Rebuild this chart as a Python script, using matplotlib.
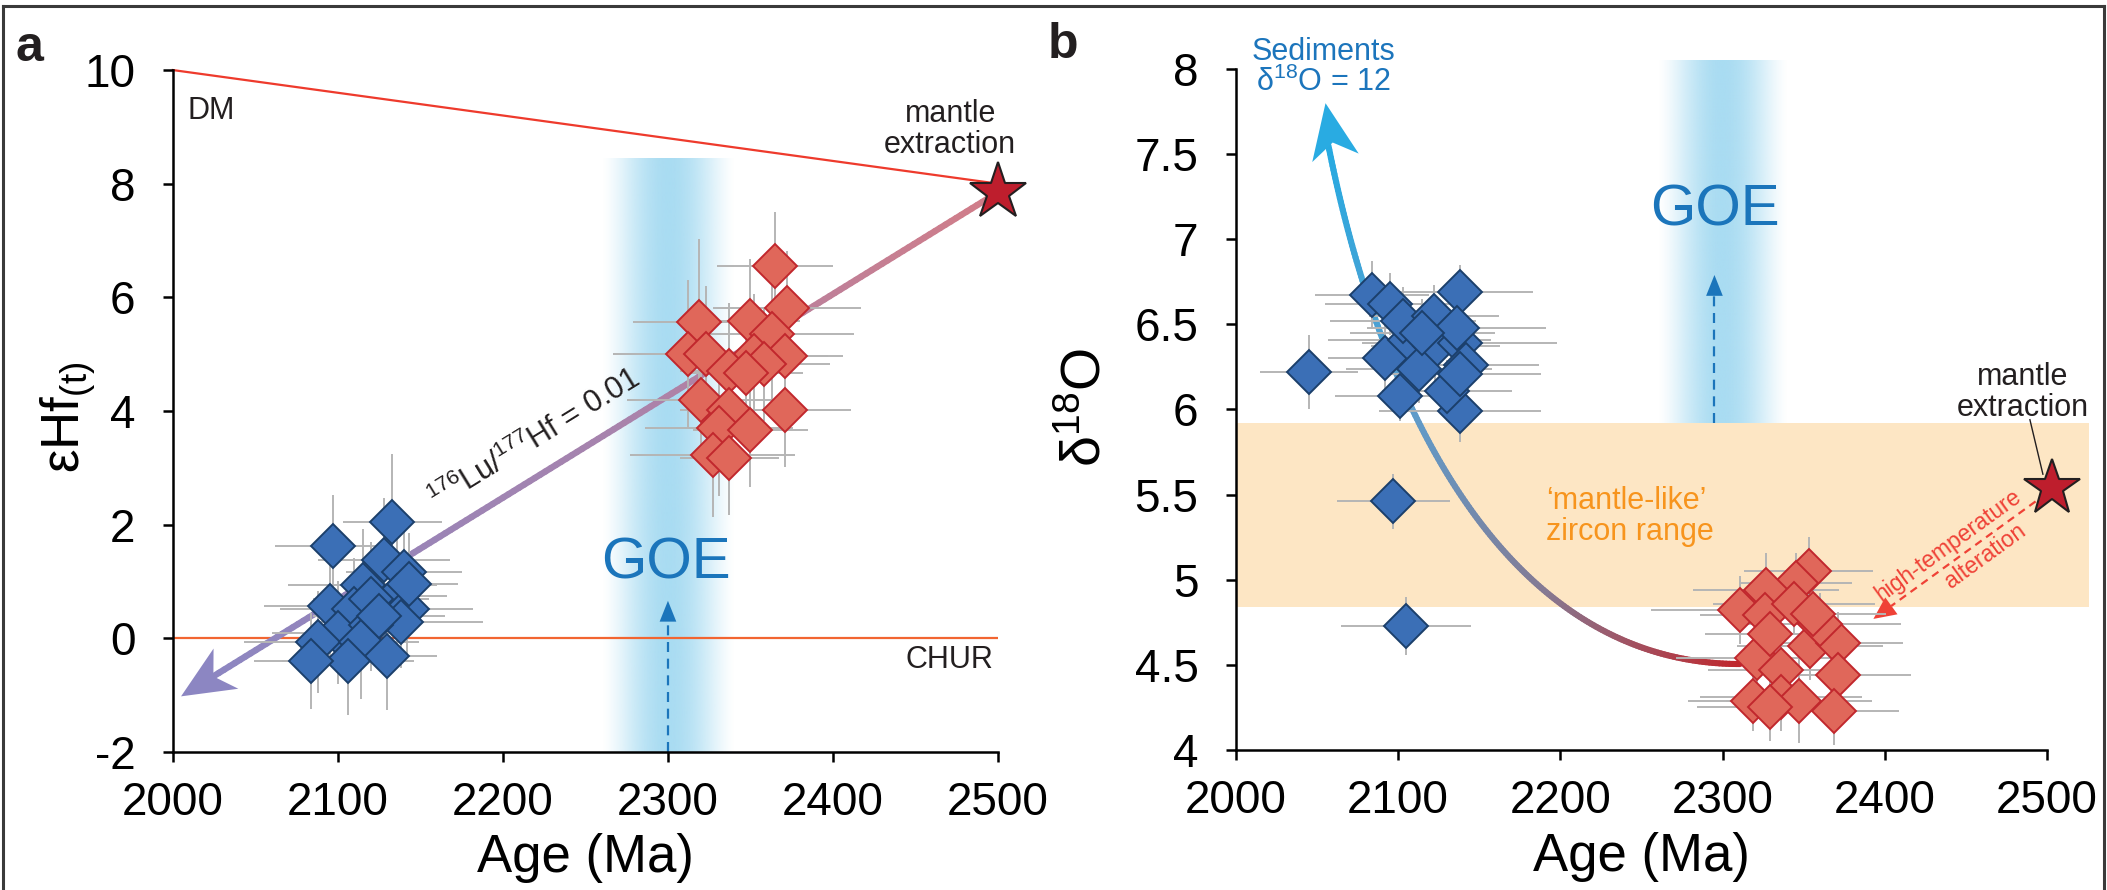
import numpy as np
import matplotlib
matplotlib.use("Agg")
import matplotlib.pyplot as plt
from matplotlib.collections import LineCollection
from matplotlib.colors import LinearSegmentedColormap, to_rgb
from matplotlib.bezier import BezierSegment
from matplotlib.patches import Rectangle
from matplotlib.lines import Line2D
from matplotlib.markers import MarkerStyle
from matplotlib.path import Path
from matplotlib.transforms import Affine2D
from matplotlib.ticker import FormatStrFormatter

# ---------------- data ----------------
# panel a : eHf(t) vs age
hf_blue_age = [2133, 2097, 2128, 2140, 2115, 2095, 2136, 2142, 2110, 2120,
               2138, 2100, 2120, 2088, 2114, 2130, 2106, 2084, 2143, 2125]
hf_blue_ehf = [2.05, 1.62, 1.37, 1.16, 0.93, 0.57, 0.75, 0.52, 0.52, 0.69,
               0.28, 0.10, 0.23, -0.07, -0.07, -0.31, -0.40, -0.40, 0.95, 0.40]
hf_blue_age_err = [30, 35, 40, 35, 45, 40, 30, 40, 45, 35,
                   50, 40, 30, 45, 35, 30, 40, 35, 30, 40]
hf_blue_ehf_err = [1.2, 0.9, 1.1, 0.9, 1.0, 0.9, 1.0, 0.8, 0.9, 1.0,
                   0.8, 0.9, 0.8, 0.9, 1.0, 0.95, 0.95, 0.85, 0.9, 0.8]

hf_red_age = [2365, 2372, 2319, 2350, 2363, 2312, 2323, 2371, 2352, 2358,
              2337, 2347, 2320, 2337, 2371, 2331, 2350, 2327, 2337]
hf_red_ehf = [6.55, 5.82, 5.57, 5.58, 5.35, 5.00, 5.00, 4.96, 4.96, 4.82,
              4.70, 4.67, 4.20, 4.02, 4.02, 3.70, 3.67, 3.23, 3.17]
hf_red_age_err = [35, 45, 40, 30, 50, 45, 40, 35, 45, 40,
                  30, 35, 45, 30, 40, 45, 35, 50, 30]
hf_red_ehf_err = [0.95, 1.0, 1.45, 1.1, 1.2, 1.3, 1.2, 1.0, 1.1, 1.0,
                  1.2, 1.1, 1.0, 1.1, 1.0, 1.2, 1.0, 1.1, 1.0]

dm_age = [2000, 2500]
dm_ehf = [10, 8]
chur_age = [2000, 2500]
chur_ehf = [0, 0]
hf_source = (2500, 7.85)           # mantle extraction star
hf_evol_tip = (2005, -1.02)        # 176Lu/177Hf = 0.01 evolution arrow

# panel b : d18O vs age
o_blue_age = [2084, 2095, 2138, 2045, 2092, 2107, 2123, 2138, 2113, 2101,
              2138, 2103, 2122, 2136, 2142, 2130, 2138, 2097, 2105, 2115]
o_blue_d18o = [6.67, 6.62, 6.69, 6.22, 6.30, 6.41, 6.37, 6.39, 6.24, 6.08,
               5.99, 6.52, 6.55, 6.48, 6.26, 6.11, 6.21, 5.46, 4.73, 6.45]
o_blue_age_err = [35, 40, 45, 30, 35, 50, 40, 60, 45, 40,
                  50, 45, 40, 55, 45, 40, 50, 35, 40, 45]
o_blue_d18o_err = [0.2, 0.18, 0.16, 0.22, 0.2, 0.18, 0.2, 0.18, 0.2, 0.15,
                   0.18, 0.2, 0.18, 0.2, 0.15, 0.18, 0.2, 0.16, 0.17, 0.2]

o_red_age = [2353, 2345, 2311, 2327, 2326, 2344, 2354, 2371, 2321, 2336,
             2371, 2319, 2336, 2347, 2369, 2360, 2329, 2356, 2329]
o_red_d18o = [5.05, 4.98, 4.82, 4.94, 4.79, 4.86, 4.61, 4.63, 4.54, 4.47,
              4.44, 4.29, 4.31, 4.29, 4.23, 4.74, 4.68, 4.80, 4.25]
o_red_age_err = [40, 35, 55, 45, 40, 50, 45, 40, 50, 45,
                 45, 40, 50, 45, 40, 50, 40, 45, 45]
o_red_d18o_err = [0.2, 0.18, 0.2, 0.22, 0.2, 0.18, 0.2, 0.18, 0.22, 0.2,
                  0.2, 0.18, 0.2, 0.25, 0.2, 0.18, 0.2, 0.2, 0.2]

mantle_zircon = (4.84, 5.92)       # 'mantle-like' zircon range
o_source = (2503, 5.54)
sediment_curve = [(2310.7, 4.505), (2168.9, 4.505), (2090.0, 5.97), (2057.0, 7.55)]
sediment_tip = (2055, 7.80)
alteration_from = (2493, 5.46)
alteration_to = (2393, 4.77)
goe_age = (2260, 2340)

BLUE_FC, BLUE_EC = '#3b6fb6', '#1b3f6b'
RED_FC, RED_EC = '#e0675a', '#c1272d'
ERR_C = '#b5b5b5'
GOE_C = '#1b75bb'
ALT_C = '#ef4136'

plt.rcParams['font.family'] = ['Liberation Sans', 'DejaVu Sans']
plt.rcParams['mathtext.fontset'] = 'custom'
plt.rcParams['mathtext.rm'] = 'Liberation Sans'
plt.rcParams['mathtext.it'] = 'Liberation Sans:italic'
plt.rcParams['mathtext.bf'] = 'Liberation Sans:bold'
plt.rcParams['mathtext.default'] = 'regular'
plt.rcParams['axes.unicode_minus'] = False

fig = plt.figure(figsize=(21.07, 8.90), dpi=100)
axA = fig.add_axes([0.0820, 0.1551, 0.3917, 0.7662])
axB = fig.add_axes([0.5866, 0.1573, 0.3849, 0.7652])


def style_axes(ax):
    for s in ['top', 'right']:
        ax.spines[s].set_visible(False)
    for s in ['left', 'bottom']:
        ax.spines[s].set_linewidth(1.8)
    ax.tick_params(direction='out', length=7, width=1.8, labelsize=33)
    ax.tick_params(axis='x', pad=14)
    ax.tick_params(axis='y', pad=20)
    ax.set_xticks(range(2000, 2501, 100))
    ax.set_xlabel('Age (Ma)', fontsize=38, labelpad=6)


def goe_band(ax, y0, y1):
    s = np.linspace(-1, 1, 256)
    img = np.zeros((1, 256, 4))
    img[..., :3] = to_rgb('#a9dcf2')
    img[..., 3] = (0.5 * (1 + np.cos(np.pi * s))) ** 0.7
    im = ax.imshow(img, extent=[goe_age[0], goe_age[1], y0, y1], aspect='auto',
                   interpolation='bilinear', zorder=0.4)
    im.set_clip_on(False)


def gradient_line(ax, pts, colors, lw):
    segs = np.stack([pts[:-1], pts[1:]], axis=1)
    cmap = LinearSegmentedColormap.from_list('g', colors)
    lc = LineCollection(segs, colors=cmap(np.linspace(0, 1, len(segs))),
                        linewidth=lw, capstyle='round', zorder=2)
    ax.add_collection(lc)


def head(ax, tip, back, color, scale, hl, hw, z=2.5):
    ax.annotate('', xy=tip, xytext=back, zorder=z,
                arrowprops=dict(arrowstyle=f'-|>,head_length={hl},head_width={hw}',
                                color=color, lw=0, mutation_scale=scale,
                                shrinkA=0, shrinkB=0))


def notched_head(ax, tip, back, color, length, width, z=2.5):
    # swept-back arrow head, size in points, drawn as a rotated marker
    p_tip = ax.transData.transform(tip)
    p_back = ax.transData.transform(back)
    d = p_tip - p_back
    u = d / np.hypot(*d)
    ang = np.degrees(np.arctan2(d[1], d[0]))
    L = length * fig.dpi / 72
    cx, cy = ax.transData.inverted().transform(p_tip - u * L / 2)
    r = 0.5 * width / length
    verts = [(0.5, 0), (-0.5, r), (-0.22, 0), (-0.5, -r), (0.5, 0)]
    codes = [Path.MOVETO, Path.LINETO, Path.LINETO, Path.LINETO, Path.CLOSEPOLY]
    m = MarkerStyle(Path(verts, codes), transform=Affine2D().rotate_deg(ang))
    ax.plot([cx], [cy], marker=m, ms=length, mfc=color, mec=color, mew=0,
            ls='none', zorder=z, clip_on=False)


def points(ax, x, y, xe, ye, fc, ec):
    ax.errorbar(x, y, xerr=xe, yerr=ye, fmt='none', ecolor=ERR_C,
                elinewidth=1.4, capsize=0, zorder=3)
    ax.plot(x, y, 'D', ms=22, mfc=fc, mec=ec, mew=1.4, ls='none', zorder=4)


# ---------------- panel a ----------------
style_axes(axA)
axA.set_xlim(2000, 2500)
axA.set_ylim(-2, 10)
axA.set_yticks(range(-2, 11, 2))
goe_band(axA, -2, 8.45)
axA.set_xlim(2000, 2500)
axA.set_ylim(-2, 10)
axA.plot(dm_age, dm_ehf, color='#ee3a2c', lw=1.6, zorder=1.5, clip_on=False)
axA.plot(chur_age, chur_ehf, color='#f26531', lw=1.6, zorder=1.5)

# evolution arrow 176Lu/177Hf = 0.01
sx, sy = hf_source
tx, ty = hf_evol_tip
frac = np.linspace(0, 0.96, 150)
line_pts = np.column_stack([sx + (tx - sx) * frac, sy + (ty - sy) * frac])
gradient_line(axA, line_pts, ['#d27d88', '#a783ad', '#8d86c1'], 4.6)
notched_head(axA, hf_evol_tip, hf_source, '#8c86c2', 38, 34)

points(axA, hf_blue_age, hf_blue_ehf, hf_blue_age_err, hf_blue_ehf_err, BLUE_FC, BLUE_EC)
points(axA, hf_red_age, hf_red_ehf, hf_red_age_err, hf_red_ehf_err, RED_FC, RED_EC)
axA.plot(*hf_source, '*', ms=43, mfc='#be1e2d', mec='#231f20', mew=1.5,
         zorder=5, clip_on=False)

# GOE arrow
axA.plot([2300, 2300], [-2, 0.35], ls=(0, (4.5, 3)), color=GOE_C, lw=1.6, zorder=2)
head(axA, (2300, 0.66), (2300, 0.3), GOE_C, 10, 1.5, 0.6)
axA.text(2299, 1.32, 'GOE', fontsize=42, color=GOE_C, ha='center', va='center')

axA.text(2009, 9.28, 'DM', fontsize=22, color='#231f20', va='center')
axA.text(2497, -0.38, 'CHUR', fontsize=22, color='#231f20', va='center', ha='right')
axA.text(2471, 8.95, 'mantle\nextraction', fontsize=22, color='#231f20',
         ha='center', va='center', linespacing=1.05)
axA.text(2160, 2.25, '$^{176}$Lu/$^{177}$Hf = 0.01', fontsize=22, color='#231f20',
         rotation=31.6, rotation_mode='anchor', ha='left', va='baseline')

axA.text(-0.1269, 0.491, 'εHf$_{(t)}$', fontsize=38, rotation=90,
         ha='center', va='center', transform=axA.transAxes)

# ---------------- panel b ----------------
style_axes(axB)
axB.set_xlim(2000, 2500)
axB.set_ylim(4, 8)
axB.set_yticks(np.arange(4, 8.01, 0.5))
axB.yaxis.set_major_formatter(FormatStrFormatter('%g'))
goe_band(axB, mantle_zircon[1], 8.05)
axB.set_xlim(2000, 2500)
axB.set_ylim(4, 8)
axB.add_patch(Rectangle((2000, mantle_zircon[0]), 526, mantle_zircon[1] - mantle_zircon[0],
                        fc='#fde6c4', ec='none', zorder=0.3, clip_on=False))

curve = BezierSegment(np.array(sediment_curve))(np.linspace(0, 1, 200))
gradient_line(axB, curve, ['#c0272d', '#857a93', '#5e9dcc', '#27aae1'], 4.4)
notched_head(axB, sediment_tip, sediment_curve[2], '#29abe2', 40, 34)

points(axB, o_blue_age, o_blue_d18o, o_blue_age_err, o_blue_d18o_err, BLUE_FC, BLUE_EC)
points(axB, o_red_age, o_red_d18o, o_red_age_err, o_red_d18o_err, RED_FC, RED_EC)
axB.plot(*o_source, '*', ms=42, mfc='#be1e2d', mec='#231f20', mew=1.5,
         zorder=5, clip_on=False)
axB.plot([2489.5, 2497.5], [5.94, 5.62], color='#231f20', lw=1.0, zorder=4.5, clip_on=False)

# GOE arrow
axB.plot([2295, 2295], [mantle_zircon[1], 6.68], ls=(0, (4.5, 3)), color=GOE_C, lw=1.6, zorder=2)
head(axB, (2295, 6.79), (2295, 6.6), GOE_C, 10, 1.5, 0.6)
axB.text(2295, 7.17, 'GOE', fontsize=42, color=GOE_C, ha='center', va='center')

# high-temperature alteration arrow
ax0, ay0 = alteration_from
ax1, ay1 = alteration_to
axB.plot([ax0, ax1 + (ax0 - ax1) * 0.11], [ay0, ay1 + (ay0 - ay1) * 0.11],
         ls=(0, (3.5, 2.5)), color=ALT_C, lw=1.6, zorder=2, clip_on=False)
head(axB, alteration_to, (ax1 + (ax0 - ax1) * 0.2, ay1 + (ay0 - ay1) * 0.2),
     ALT_C, 10, 1.6, 0.75)
# two lines, one either side of the dashed arrow
axB.annotate('high-temperature', xy=(2444.6, 5.127), xytext=(-6.5, 8.9),
             textcoords='offset points', fontsize=16.5, color=ALT_C, rotation=36,
             rotation_mode='anchor', ha='center', va='center')
axB.annotate('alteration', xy=(2456.6, 5.21), xytext=(6.5, -8.9),
             textcoords='offset points', fontsize=16.5, color=ALT_C, rotation=36,
             rotation_mode='anchor', ha='center', va='center')

axB.text(2054, 8.01, 'Sediments\nδ$^{18}$O = 12', fontsize=22, color='#1c75bc',
         ha='center', va='center', linespacing=1.0)
axB.text(2191, 5.37, '‘mantle-like’\nzircon range', fontsize=22, color='#f7941d',
         ha='left', va='center', linespacing=1.05)
axB.text(2485, 6.1, 'mantle\nextraction', fontsize=22, color='#231f20',
         ha='center', va='center', linespacing=1.05)

axB.text(-0.1837, 0.502, 'δ$^{18}$O', fontsize=40, rotation=90,
         ha='center', va='center', transform=axB.transAxes)

# panel letters and frame
fig.text(0.0142, 0.946, 'a', fontsize=36, fontweight='bold', color='#231f20',
         ha='center', va='center')
fig.text(0.5045, 0.949, 'b', fontsize=36, fontweight='bold', color='#231f20',
         ha='center', va='center')
frame_kw = dict(color='#3a3a3a', lw=2.2, transform=fig.transFigure)
fig.add_artist(Line2D([0.0014, 0.9986], [0.9933, 0.9933], **frame_kw))
fig.add_artist(Line2D([0.0014, 0.0014], [0.0, 0.9933], **frame_kw))
fig.add_artist(Line2D([0.9986, 0.9986], [0.0, 0.9933], **frame_kw))

fig.savefig('out.png', dpi=100)
